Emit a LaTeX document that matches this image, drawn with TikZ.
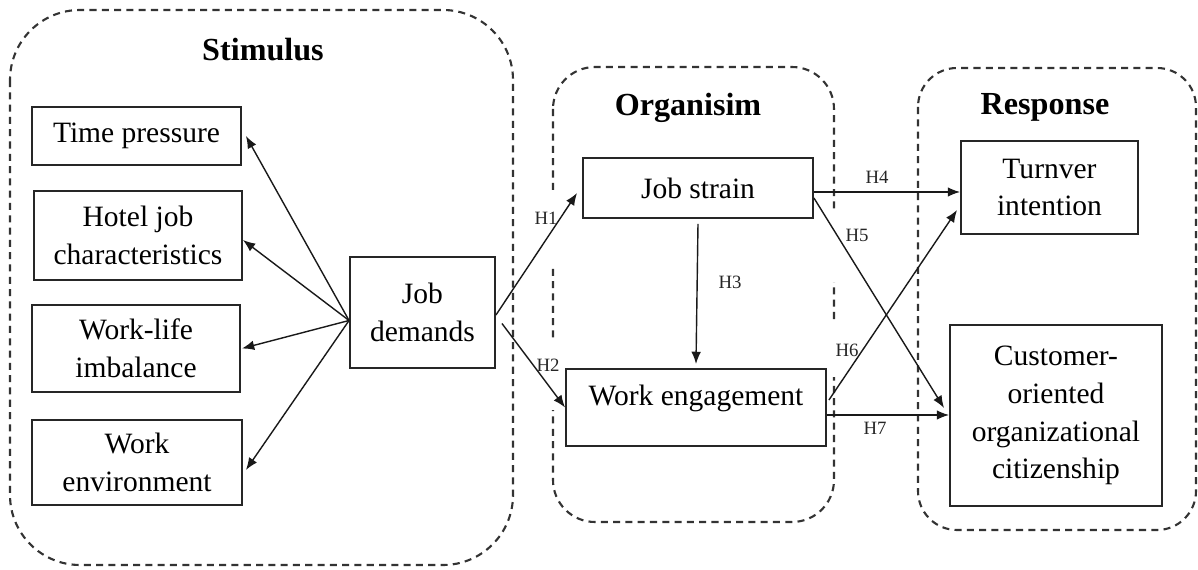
\documentclass[tikz,border=0pt]{standalone}
\usepackage{fontspec}
\setmainfont{Liberation Serif}
\usetikzlibrary{arrows.meta}
\tikzset{
  grp/.style={draw=black!80, line width=1.2pt, dash pattern=on 4pt off 3pt},
  box/.style={draw=black!85, line width=1.1pt, fill=white, align=center, inner sep=0pt,
              font=\fontsize{16.8}{21.5}\selectfont},
  ttl/.style={font=\fontsize{18.3}{22}\selectfont\bfseries},
  hlab/.style={font=\fontsize{10.7}{12}\selectfont, text=black!85, inner sep=0pt},
  arr/.style={-{Latex[length=7pt,width=5.5pt]}, line width=0.8pt, black!90},
  gap/.style={fill=white, draw=none}
}
\begin{document}
\begin{tikzpicture}[x=0.02cm,y=-0.02cm]
\useasboundingbox (0,0) rectangle (1198,570);
% groups
\draw[grp, rounded corners=1.4cm] (10,10) rectangle (513,565);
\draw[grp, rounded corners=0.84cm] (553,67) rectangle (834,522);
\draw[grp, rounded corners=0.78cm] (918,68) rectangle (1196,530);
% gaps in the organism frame
\fill[gap] (545,195) rectangle (561,268);
\fill[gap] (545,342) rectangle (561,410);
\fill[gap] (826,210) rectangle (842,282);
\fill[gap] (826,322) rectangle (842,377);
% titles
\node[ttl] (tS) at (263,50) {Stimulus};
\node[ttl] (tO) at (688,108) {Organisim};
\node[ttl] (tR) at (1045,107) {Response};
% boxes
\node[box, minimum width=4.18cm, minimum height=1.16cm] (tp) at (136.5,136) {Time pressure};
\node[box, minimum width=4.16cm, minimum height=1.78cm] (hj) at (138,235.5) {Hotel job\\characteristics};
\node[box, minimum width=4.16cm, minimum height=1.74cm] (wl) at (136,348.5) {Work-life\\imbalance};
\node[box, minimum width=4.2cm, minimum height=1.7cm] (wv) at (137,462.5) {Work\\environment};
\node[box, minimum width=2.9cm, minimum height=2.22cm] (jd) at (422.5,312.5) {Job\\demands};
\node[box, minimum width=4.6cm, minimum height=1.2cm] (js) at (698,188) {Job strain};
\node[box, minimum width=5.2cm, minimum height=1.54cm] (wg) at (696,407.5) {};
\node[box, draw=none, fill=none] (wgt) at ([yshift=0.18cm]wg.center) {Work engagement};
\node[box, minimum width=3.54cm, minimum height=1.86cm] (tn) at (1049.5,187.5) {Turnver\\intention};
\node[box, minimum width=4.24cm, minimum height=3.62cm] (co) at (1056,415.5) {Customer-\\oriented\\organizational\\citizenship};
% stimulus arrows
\coordinate (jdw) at ([yshift=-0.16cm]jd.west);
\draw[arr] (jdw) -- ([xshift=0.08cm]tp.east);
\draw[arr] (jdw) -- ([yshift=-0.09cm]hj.east);
\draw[arr] (jdw) -- ([xshift=0.02cm]wl.east);
\draw[arr] (jdw) -- ([xshift=0.06cm,yshift=-0.15cm]wv.east);
% hypotheses
\draw[arr] ([yshift=-0.05cm]jd.east) -- ([xshift=-0.1cm,yshift=-0.1cm]js.west);
\draw[arr] ([xshift=0.12cm,yshift=-0.22cm]jd.east) -- (wg.west);
\draw[arr] ([yshift=-0.1cm]js.south) -- ([yshift=0.08cm]wg.north);
\draw[arr] ([yshift=-0.08cm]js.east) -- ([yshift=-0.08cm]js.east -| tn.west);
\draw[arr] ([yshift=-0.2cm]js.east) -- ([xshift=-0.1cm,yshift=0.15cm]co.west);
\draw[arr] ([xshift=0.04cm,yshift=0.15cm]wg.east) -- ([xshift=-0.06cm,yshift=-0.45cm]tn.west);
\draw[arr] ([yshift=-0.15cm]wg.east) -- ([yshift=-0.15cm]wg.east -| co.west);
% labels
\node[hlab] (h1) at (546,218) {H1};
\node[hlab] (h2) at (548,365) {H2};
\node[hlab] (h3) at (730,282) {H3};
\node[hlab] (h4) at (877,177) {H4};
\node[hlab] (h5) at (857,235) {H5};
\node[hlab] (h6) at (847,350) {H6};
\node[hlab] (h7) at (875,428) {H7};
\end{tikzpicture}
\end{document}
